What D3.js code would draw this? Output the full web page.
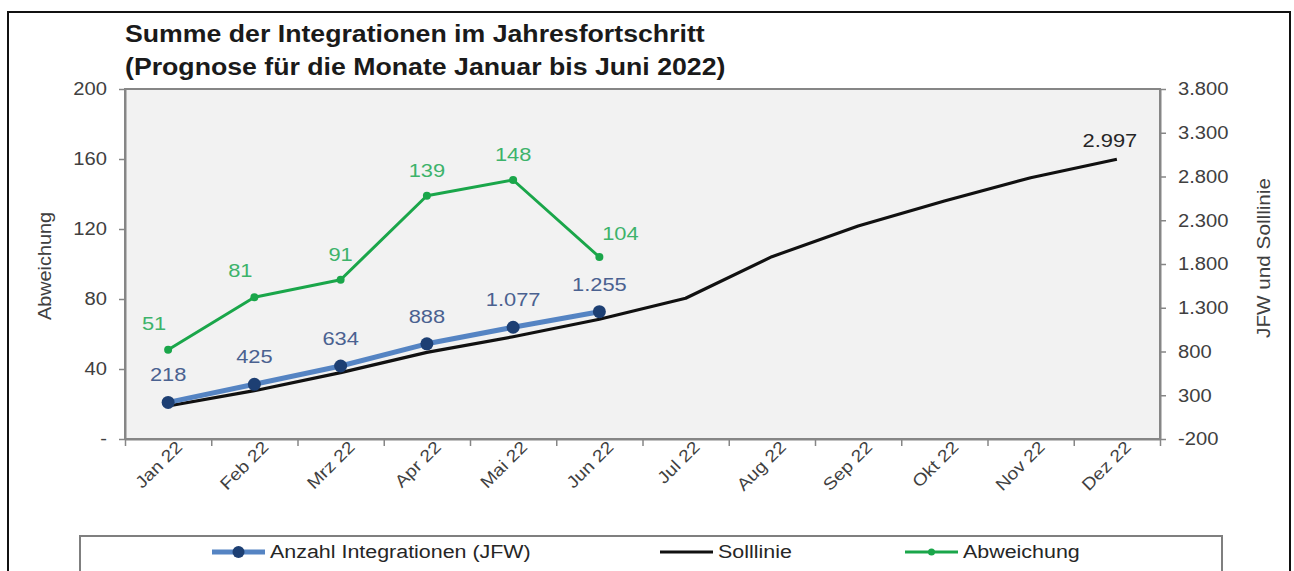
<!DOCTYPE html>
<html>
<head>
<meta charset="utf-8">
<script src="https://cdn.jsdelivr.net/npm/d3@7"></script>
<style>
  body { margin: 0; background: #fff; }
  svg { display: block; font-family: "Liberation Sans", Arial, sans-serif; }
</style>
</head>
<body>
<script>
// chart data
const months = ["Jan 22", "Feb 22", "Mrz 22", "Apr 22", "Mai 22", "Jun 22",
                "Jul 22", "Aug 22", "Sep 22", "Okt 22", "Nov 22", "Dez 22"];
const jfw = [218, 425, 634, 888, 1077, 1255];
const soll = [177, 352, 558, 790, 969, 1168, 1408, 1884, 2234, 2520, 2786, 2997];
const abw = [51, 81, 91, 139, 148, 104];
const abwLabelSide = ["left", "left", "top", "top", "top", "right"];
const leftTicks = [0, 40, 80, 120, 160, 200];
const rightTicks = [-200, 300, 800, 1300, 1800, 2300, 2800, 3300, 3800];

const width = 1294, height = 571;
const margin = {top: 89, right: 134, bottom: 132, left: 125};

const de = d3.formatLocale({decimal: ",", thousands: ".", grouping: [3], currency: ["", " €"], minus: "-"});
const fmt = de.format(",d");

// the original text is a bit wider than Arial, stretch it horizontally
function stretch(sel, k) {
  sel.each(function() {
    const len = this.getComputedTextLength();
    d3.select(this).attr("textLength", len * k).attr("lengthAdjust", "spacingAndGlyphs");
  });
}

const svg = d3.select("body").append("svg")
  .attr("width", width)
  .attr("height", height);

// outer frame
svg.append("rect")
  .attr("x", 8).attr("y", 12)
  .attr("width", 1282).attr("height", 580)
  .attr("fill", "#fff")
  .attr("stroke", "#111")
  .attr("stroke-width", 2);

const xScale = d3.scaleBand()
  .domain(months)
  .range([margin.left, width - margin.right]);
const cx = m => xScale(m) + xScale.bandwidth() / 2;

const yLeft = d3.scaleLinear()
  .domain([0, 200])
  .range([height - margin.bottom, margin.top]);

const yRight = d3.scaleLinear()
  .domain([-200, 3800])
  .range([height - margin.bottom, margin.top]);

// plot area
svg.append("rect")
  .attr("x", margin.left).attr("y", margin.top)
  .attr("width", width - margin.right - margin.left)
  .attr("height", height - margin.bottom - margin.top)
  .attr("fill", "#f2f2f2");

// title
const titleLines = ["Summe der Integrationen im Jahresfortschritt",
                    "(Prognose für die Monate Januar bis Juni 2022)"];
svg.append("g").selectAll("text")
  .data(titleLines)
  .join("text")
  .attr("x", 125)
  .attr("y", (d, i) => 42 + i * 33)
  .attr("font-weight", "bold")
  .attr("font-size", 23)
  .attr("fill", "#1a1a1a")
  .text(d => d)
  .call(stretch, 1.16);

// axes
function styleAxis(g) {
  g.selectAll(".domain").attr("stroke", "#868686").attr("stroke-width", 2);
  g.selectAll(".tick line").attr("stroke", "#868686").attr("stroke-width", 1.5);
  g.selectAll("text").attr("fill", "#404040").attr("font-size", 18)
    .attr("font-family", "'Liberation Sans', Arial, sans-serif");
}

const yAxisL = d3.axisLeft(yLeft)
  .tickValues(leftTicks)
  .tickFormat(d => d === 0 ? "-" : d)
  .tickSize(6).tickSizeOuter(0).tickPadding(12);
svg.append("g")
  .attr("transform", `translate(${margin.left},0)`)
  .call(yAxisL)
  .call(styleAxis)
  .selectAll("text").call(stretch, 1.12);

const yAxisR = d3.axisRight(yRight)
  .tickValues(rightTicks)
  .tickFormat(fmt)
  .tickSize(6).tickSizeOuter(0).tickPadding(12);
svg.append("g")
  .attr("transform", `translate(${width - margin.right},0)`)
  .call(yAxisR)
  .call(styleAxis)
  .selectAll("text").call(stretch, 1.12);

// category boundaries as ticks
const xEdges = d3.scaleLinear().domain([0, months.length]).range(xScale.range());
svg.append("g")
  .attr("transform", `translate(0,${height - margin.bottom})`)
  .call(d3.axisBottom(xEdges).ticks(months.length).tickFormat("").tickSize(7).tickSizeOuter(0))
  .call(styleAxis);

const xAxis = svg.append("g")
  .attr("transform", `translate(0,${height - margin.bottom})`)
  .call(d3.axisBottom(xScale).tickSize(0))
  .call(styleAxis);
xAxis.select(".domain").remove();
xAxis.selectAll("text")
  .attr("font-size", 17)
  .style("text-anchor", "end")
  .attr("y", 0)
  .attr("dy", "0.35em")
  .attr("transform", "translate(11,5) rotate(-45)")
  .call(stretch, 1.14);

// axis titles
svg.append("text")
  .attr("transform", "translate(51,266) rotate(-90)")
  .attr("text-anchor", "middle")
  .attr("font-size", 18)
  .attr("fill", "#404040")
  .text("Abweichung")
  .call(stretch, 1.1);

svg.append("text")
  .attr("transform", "translate(1270,258) rotate(-90)")
  .attr("text-anchor", "middle")
  .attr("font-size", 18)
  .attr("fill", "#404040")
  .text("JFW und Solllinie")
  .call(stretch, 1.15);

// Solllinie
const sollLine = d3.line()
  .x((d, i) => cx(months[i]))
  .y(d => yRight(d));
svg.append("path")
  .datum(soll)
  .attr("fill", "none")
  .attr("stroke", "#111")
  .attr("stroke-width", 3.2)
  .attr("stroke-linejoin", "round")
  .attr("d", sollLine);

// JFW
svg.append("path")
  .datum(jfw)
  .attr("fill", "none")
  .attr("stroke", "#5584c3")
  .attr("stroke-width", 5)
  .attr("stroke-linejoin", "round")
  .attr("d", sollLine);

svg.append("g")
  .selectAll("circle")
  .data(jfw)
  .join("circle")
  .attr("cx", (d, i) => cx(months[i]))
  .attr("cy", d => yRight(d))
  .attr("r", 6.5)
  .attr("fill", "#1d3f73");

svg.append("g")
  .selectAll("text")
  .data(jfw)
  .join("text")
  .attr("x", (d, i) => cx(months[i]))
  .attr("y", d => yRight(d) - 21)
  .attr("text-anchor", "middle")
  .attr("font-size", 19)
  .attr("fill", "#4a6190")
  .text(d => fmt(d))
  .call(stretch, 1.15);

// Abweichung
const abwLine = d3.line()
  .x((d, i) => cx(months[i]))
  .y(d => yLeft(d));
svg.append("path")
  .datum(abw)
  .attr("fill", "none")
  .attr("stroke", "#1aa64a")
  .attr("stroke-width", 3)
  .attr("stroke-linejoin", "round")
  .attr("d", abwLine);

svg.append("g")
  .selectAll("circle")
  .data(abw)
  .join("circle")
  .attr("cx", (d, i) => cx(months[i]))
  .attr("cy", d => yLeft(d))
  .attr("r", 4)
  .attr("fill", "#1aa64a");

const sideDx = {left: -14, top: 0, right: 21};
const sideDy = {left: -20, top: -19, right: -17};
svg.append("g")
  .selectAll("text")
  .data(abw)
  .join("text")
  .attr("x", (d, i) => cx(months[i]) + sideDx[abwLabelSide[i]])
  .attr("y", (d, i) => yLeft(d) + sideDy[abwLabelSide[i]])
  .attr("text-anchor", "middle")
  .attr("font-size", 19)
  .attr("fill", "#3db36b")
  .text(d => d)
  .call(stretch, 1.15);

// end label of Solllinie
const last = soll.length - 1;
svg.append("text")
  .attr("x", cx(months[last]) - 7)
  .attr("y", yRight(soll[last]) - 12)
  .attr("text-anchor", "middle")
  .attr("font-size", 19)
  .attr("fill", "#262626")
  .text(fmt(soll[last]))
  .call(stretch, 1.15);

// plot border on top
svg.append("rect")
  .attr("x", margin.left).attr("y", margin.top)
  .attr("width", width - margin.right - margin.left)
  .attr("height", height - margin.bottom - margin.top)
  .attr("fill", "none")
  .attr("stroke", "#868686")
  .attr("stroke-width", 2);

// legend
svg.append("rect")
  .attr("x", 80).attr("y", 536)
  .attr("width", 1142).attr("height", 60)
  .attr("fill", "#fff")
  .attr("stroke", "#7f7f7f")
  .attr("stroke-width", 2);

const legendItems = [
  {name: "Anzahl Integrationen (JFW)", x: 212, color: "#5584c3", width: 5, dot: "#1d3f73", r: 6},
  {name: "Solllinie", x: 660, color: "#111", width: 3.2, dot: null, r: 0},
  {name: "Abweichung", x: 905, color: "#1aa64a", width: 3, dot: "#1aa64a", r: 3.5}
];
const lg = svg.append("g").selectAll("g")
  .data(legendItems)
  .join("g")
  .attr("transform", d => `translate(${d.x},552)`);
lg.append("line")
  .attr("x1", 0).attr("x2", 53)
  .attr("stroke", d => d.color)
  .attr("stroke-width", d => d.width);
lg.filter(d => d.dot)
  .append("circle")
  .attr("cx", 26.5).attr("r", d => d.r)
  .attr("fill", d => d.dot);
lg.append("text")
  .attr("x", 58)
  .attr("dy", "0.35em")
  .attr("font-size", 18)
  .attr("fill", "#262626")
  .text(d => d.name)
  .call(stretch, 1.19);
</script>
</body>
</html>
